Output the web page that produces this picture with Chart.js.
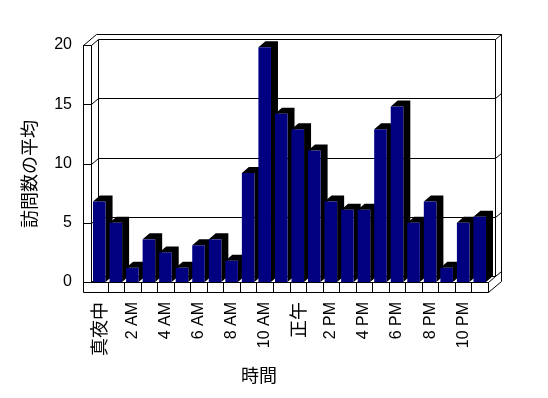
<!DOCTYPE html>
<html lang="ja">
<head>
<meta charset="utf-8">
<title>訪問数の平均</title>
<script src="https://cdn.jsdelivr.net/npm/chart.js@4.4.1/dist/chart.umd.min.js"></script>
<style>
  html, body { margin: 0; padding: 0; background: #fff; }
  #wrap { width: 548px; height: 398px; }
</style>
</head>
<body>
<div id="wrap"><canvas id="hourChart" width="548" height="398"></canvas></div>
<script>
// -----------------------------
// Data
// -----------------------------
const hourLabels = [
    '真夜中', '1 AM', '2 AM', '3 AM', '4 AM', '5 AM', '6 AM', '7 AM', '8 AM', '9 AM', '10 AM', '11 AM',
    '正午', '1 PM', '2 PM', '3 PM', '4 PM', '5 PM', '6 PM', '7 PM', '8 PM', '9 PM', '10 PM', '11 PM'
];
const visitAverages = [
    6.8, 5.0, 1.2, 3.6, 2.5, 1.2, 3.1, 3.6, 1.8, 9.2, 19.8, 14.2,
    12.9, 11.1, 6.8, 6.1, 6.1, 12.9, 14.8, 5.0, 6.8, 1.2, 5.0, 5.5
];
const yTicks = [0, 5, 10, 15, 20];
const yTitle = '訪問数の平均';
const xTitle = '時間';

// -----------------------------
// 3D look (pixels)
// -----------------------------
const DEPTH = { x: 7, y: -6 };   // front plane -> back wall
const WALL = { x: 6, y: -5 };    // wall thickness
const SIDE = 8;                  // front face of left wall
const FLOOR = 10;                // front face of floor

const latinFont = "'Liberation Sans', Arial, sans-serif";
const cjkFont = "'Noto Sans CJK JP', sans-serif";
const isCjk = s => /[^\x00-\x7f]/.test(s || '');

const px = v => Math.round(v) + 0.5;

const frame3d = {
    id: 'frame3d',
    beforeDatasetsDraw(chart) {
        const { ctx, chartArea: a, scales } = chart;
        const L = a.left, R = a.right, T = a.top, B = a.bottom;
        const dx = DEPTH.x, dy = DEPTH.y, tx = WALL.x, ty = WALL.y;

        const line = pts => {
            ctx.beginPath();
            pts.forEach(([x, y], i) => i ? ctx.lineTo(px(x), px(y)) : ctx.moveTo(px(x), px(y)));
            ctx.stroke();
        };

        ctx.save();
        ctx.strokeStyle = '#000';
        ctx.lineWidth = 1;

        // left wall front face + top
        line([[L - SIDE, T], [L - SIDE, B + FLOOR]]);
        line([[L, T], [L, B]]);
        line([[L - SIDE, T], [L, T]]);
        line([[L - SIDE, T], [L - SIDE + dx + tx, T + dy + ty], [R + dx + tx, T + dy + ty],
              [R + dx + tx, B + FLOOR + dy + ty]]);
        line([[L + dx, T + dy], [L + dx, B + dy]]);
        line([[R + dx, T + dy], [R + dx, B + dy]]);

        // gridlines: side tick, left wall, back wall, right edge
        yTicks.forEach(v => {
            const yy = scales.y.getPixelForValue(v);
            line([[L - SIDE, yy], [L, yy], [L + dx, yy + dy], [R + dx, yy + dy], [R + dx + tx, yy + dy + ty]]);
        });

        // floor
        line([[L - SIDE, B], [R, B], [R, B + FLOOR], [L - SIDE, B + FLOOR]]);
        line([[R, B], [R + dx, B + dy]]);
        line([[R, B + FLOOR], [R + dx + tx, B + FLOOR + dy + ty]]);
        for (let i = 1; i < hourLabels.length; i++) {
            const xx = (scales.x.getPixelForValue(i - 1) + scales.x.getPixelForValue(i)) / 2;
            line([[xx, B], [xx, B + FLOOR]]);
        }

        // bar sides and tops
        ctx.fillStyle = '#000';
        chart.getDatasetMeta(0).data.forEach(bar => {
            const x0 = bar.x - bar.width / 2, x1 = bar.x + bar.width / 2;
            ctx.beginPath();
            ctx.moveTo(x0, bar.y);
            ctx.lineTo(x0 + dx, bar.y + dy);
            ctx.lineTo(x1 + dx, bar.y + dy);
            ctx.lineTo(x1 + dx, bar.base + dy);
            ctx.lineTo(x1, bar.base);
            ctx.lineTo(x1, bar.y);
            ctx.closePath();
            ctx.fill();
        });
        ctx.restore();
    },
    afterDraw(chart) {
        const { ctx } = chart;
        ctx.save();
        ctx.fillStyle = '#000';
        ctx.font = '18px ' + cjkFont;
        ctx.textAlign = 'center';
        ctx.textBaseline = 'middle';
        ctx.fillText(xTitle, 259, 375);
        ctx.translate(29, 174);
        ctx.rotate(-Math.PI / 2);
        ctx.fillText(yTitle, 0, 0);
        ctx.restore();
    }
};

// -----------------------------
// Chart
// -----------------------------
new Chart(document.getElementById('hourChart').getContext('2d'), {
    type: 'bar',
    data: {
        labels: hourLabels,
        datasets: [{
            data: visitAverages,
            backgroundColor: '#000080',
            borderWidth: 0,
            categoryPercentage: 1,
            barPercentage: 0.76
        }]
    },
    options: {
        responsive: false,
        animation: false,
        events: [],
        layout: { padding: { left: 0, top: 45, right: 60, bottom: 0 } },
        plugins: {
            legend: { display: false },
            tooltip: { enabled: false }
        },
        scales: {
            x: {
                grid: { display: false, drawTicks: false },
                border: { display: false },
                ticks: {
                    autoSkip: false,
                    maxRotation: 90,
                    minRotation: 90,
                    padding: 20,
                    color: '#000',
                    font: ctx => {
                        const lbl = hourLabels[ctx.index];
                        return isCjk(lbl) ? { family: cjkFont, size: 18 } : { family: latinFont, size: 16 };
                    },
                    callback: (value, index) => index % 2 === 0 ? hourLabels[index] : ''
                },
                afterFit: s => { s.height = 116; s.paddingLeft = 0; s.paddingRight = 0; }
            },
            y: {
                min: 0,
                max: 20,
                grid: { display: false, drawTicks: false },
                border: { display: false },
                ticks: {
                    padding: 19,
                    color: '#000',
                    font: { family: latinFont, size: 16 }
                },
                afterBuildTicks: s => { s.ticks = yTicks.map(v => ({ value: v })); },
                afterFit: s => { s.width = 91; s.paddingTop = 0; s.paddingBottom = 0; }
            }
        }
    },
    plugins: [frame3d]
});
</script>
</body>
</html>
